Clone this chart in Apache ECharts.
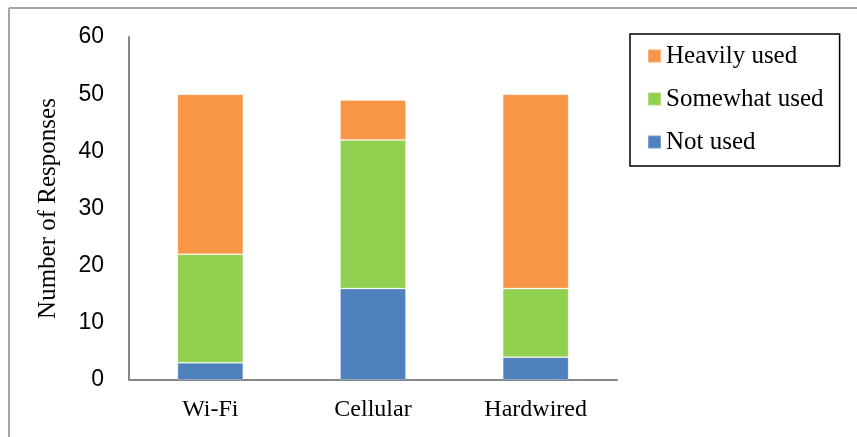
<!DOCTYPE html>
<html>
<head>
<meta charset="utf-8">
<style>
  html, body { margin: 0; padding: 0; background: #fff; }
  #chart { width: 857px; height: 437px; }
</style>
<script src="https://cdn.jsdelivr.net/npm/echarts@6/dist/echarts.min.js"></script>
</head>
<body>
<div id="chart"></div>
<script>
// Network usage survey: responses per connection type
const categories = ['Wi-Fi', 'Cellular', 'Hardwired'];
const notUsed = [3, 16, 4];
const somewhatUsed = [19, 26, 12];
const heavilyUsed = [28, 7, 34];
const legendOrder = ['Heavily used', 'Somewhat used', 'Not used'];
const yTicks = { min: 0, max: 60, interval: 10 };

const serif = '"Liberation Serif", "Times New Roman", serif';
const sans = '"Liberation Sans", Arial, sans-serif';

const chart = echarts.init(document.getElementById('chart'), null, { renderer: 'canvas' });

function barSeries(name, data, color) {
  return {
    name: name,
    type: 'bar',
    stack: 'total',
    barWidth: 66,
    data: data,
    itemStyle: { color: color, borderColor: 'rgba(255,255,255,0.25)', borderWidth: 1 },
    emphasis: { disabled: true }
  };
}

chart.setOption({
  animation: false,
  backgroundColor: '#ffffff',
  grid: { left: 129, top: 37, right: 240, bottom: 57, containLabel: false },
  graphic: [
    { type: 'line', shape: { x1: 9, y1: 8, x2: 857, y2: 8 }, style: { stroke: '#a6a6a6', lineWidth: 2 } },
    { type: 'line', shape: { x1: 9, y1: 8, x2: 9, y2: 437 }, style: { stroke: '#a6a6a6', lineWidth: 2 } }
  ],
  legend: {
    data: legendOrder,
    orient: 'vertical',
    left: 630,
    top: 34,
    icon: 'rect',
    itemWidth: 13,
    itemHeight: 13,
    itemGap: 17,
    padding: [9, 16, 11, 17],
    borderColor: '#000',
    borderWidth: 1.5,
    textStyle: { fontFamily: serif, fontSize: 25, color: '#000', lineHeight: 26 }
  },
  xAxis: {
    type: 'category',
    data: categories,
    axisLine: { lineStyle: { color: '#868686', width: 2 } },
    axisTick: { show: false },
    axisLabel: { fontFamily: serif, fontSize: 24, color: '#000', margin: 18 }
  },
  yAxis: {
    type: 'value',
    min: yTicks.min,
    max: yTicks.max,
    interval: yTicks.interval,
    name: 'Number of Responses',
    nameLocation: 'middle',
    nameGap: 68,
    nameTextStyle: { fontFamily: serif, fontSize: 25, color: '#000' },
    axisLine: { show: true, lineStyle: { color: '#868686', width: 2 } },
    axisTick: { show: false },
    splitLine: { show: false },
    axisLabel: { fontFamily: sans, fontSize: 23, color: '#000', margin: 25 }
  },
  series: [
    barSeries('Not used', notUsed, '#4F81BD'),
    barSeries('Somewhat used', somewhatUsed, '#92D050'),
    barSeries('Heavily used', heavilyUsed, '#F79646')
  ]
});
</script>
</body>
</html>
